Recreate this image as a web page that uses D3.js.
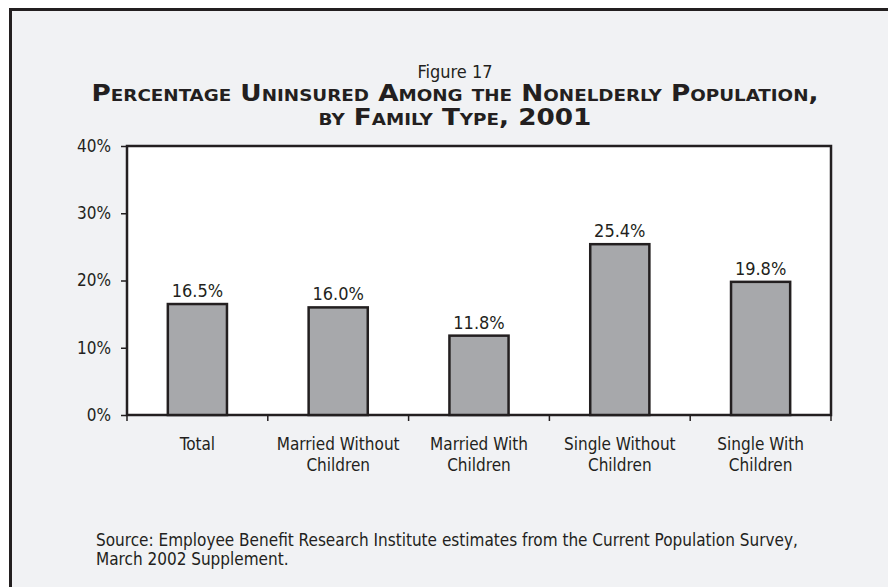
<!DOCTYPE html>
<html>
<head>
<meta charset="utf-8">
<script src="https://cdn.jsdelivr.net/npm/d3@7"></script>
<style>
  html, body { margin: 0; padding: 0; background: #ffffff; }
  svg { display: block; }
  text { font-family: "DejaVu Sans Condensed", "Liberation Sans Narrow", "Arial Narrow", sans-serif; fill: #231f20; }
</style>
</head>
<body>
<svg id="chart" width="888" height="587"></svg>
<script>
// Family types and share uninsured (percent)
const categories = [
  ["Total"],
  ["Married Without", "Children"],
  ["Married With", "Children"],
  ["Single Without", "Children"],
  ["Single With", "Children"]
];
const values = [16.5, 16.0, 11.8, 25.4, 19.8];
const yTicks = [0, 10, 20, 30, 40];

const svg = d3.select("#chart");
const W = 888, H = 587;

// Panel with heavy rule on the top and left edges
svg.append("rect").attr("x", 12).attr("y", 11).attr("width", W - 12).attr("height", H - 11).attr("fill", "#f1f2f4");
svg.append("path")
  .attr("d", `M10.5,${H} V9.5 H${W}`)
  .attr("fill", "none").attr("stroke", "#231f20").attr("stroke-width", 3);

// Titles
svg.append("text").attr("x", 455).attr("y", 78).attr("text-anchor", "middle")
  .style("font-size", "18px").text("Figure 17");
const titleLines = ["Percentage Uninsured Among the Nonelderly Population,", "by Family Type, 2001"];
const title = svg.append("text").attr("y", 101).attr("text-anchor", "middle")
  .style("font-size", "23px").style("font-weight", "bold").style("font-variant", "small-caps");
const titleSpans = titleLines.map((t, i) =>
  title.append("tspan").attr("x", 455).attr("dy", i === 0 ? 0 : 24).text(t));
// Stretch the heading to the set line width, keeping both lines at the same horizontal scale
const k = 727 / titleSpans[0].node().getComputedTextLength();
titleSpans.forEach(s => {
  const len = s.node().getComputedTextLength();
  s.attr("textLength", len * k).attr("lengthAdjust", "spacingAndGlyphs");
});

// Plot area
const m = { left: 127, right: 831, top: 146, bottom: 415 };
const x = d3.scaleBand()
  .domain(categories.map((d, i) => i))
  .range([m.left, m.right])
  .paddingInner(0.58).paddingOuter(0.29);
const y = d3.scaleLinear().domain([0, 40]).range([m.bottom, m.top]);

svg.append("rect")
  .attr("x", m.left).attr("y", m.top)
  .attr("width", m.right - m.left).attr("height", m.bottom - m.top)
  .attr("fill", "#ffffff").attr("stroke", "#231f20").attr("stroke-width", 2.5);

// Bars
svg.append("g").selectAll("rect").data(values).join("rect")
  .attr("x", (d, i) => x(i))
  .attr("y", d => y(d))
  .attr("width", x.bandwidth())
  .attr("height", d => y(0) - y(d))
  .attr("fill", "#a7a8ab").attr("stroke", "#231f20").attr("stroke-width", 2.5);

// Value labels
svg.append("g").selectAll("text").data(values).join("text")
  .attr("x", (d, i) => x(i) + x.bandwidth() / 2)
  .attr("y", d => y(d) - 7)
  .attr("text-anchor", "middle")
  .style("font-size", "18px")
  .text(d => d.toFixed(1) + "%");

// Y axis
const yAxis = d3.axisLeft(y).tickValues(yTicks).tickFormat(d => d + "%").tickSize(6).tickPadding(10);
const gy = svg.append("g").attr("transform", `translate(${m.left},0)`).call(yAxis);
gy.select(".domain").remove();
gy.selectAll(".tick line").attr("stroke", "#231f20").attr("stroke-width", 1.5);
gy.selectAll(".tick text").style("font-size", "17px").attr("fill", "#231f20");

// X axis: tick marks at category boundaries
const step = x.step();
const bounds = d3.range(categories.length + 1).map(i => m.left + i * step);
svg.append("g").selectAll("line").data(bounds).join("line")
  .attr("x1", d => d).attr("x2", d => d)
  .attr("y1", m.bottom).attr("y2", m.bottom + 6)
  .attr("stroke", "#231f20").attr("stroke-width", 1.5);

const xl = svg.append("g").selectAll("text").data(categories).join("text")
  .attr("x", (d, i) => x(i) + x.bandwidth() / 2)
  .attr("y", 450)
  .attr("text-anchor", "middle")
  .style("font-size", "17px");
xl.selectAll("tspan").data(d => d).join("tspan")
  .attr("x", function () { return d3.select(this.parentNode).attr("x"); })
  .attr("dy", (d, i) => i === 0 ? 0 : 21)
  .text(d => d);

// Source note
const src = ["Source: Employee Benefit Research Institute estimates from the Current Population Survey,", "March 2002 Supplement."];
src.forEach((t, i) => {
  svg.append("text").attr("x", 96).attr("y", 546 + i * 19).style("font-size", "17px").text(t);
});
</script>
</body>
</html>
